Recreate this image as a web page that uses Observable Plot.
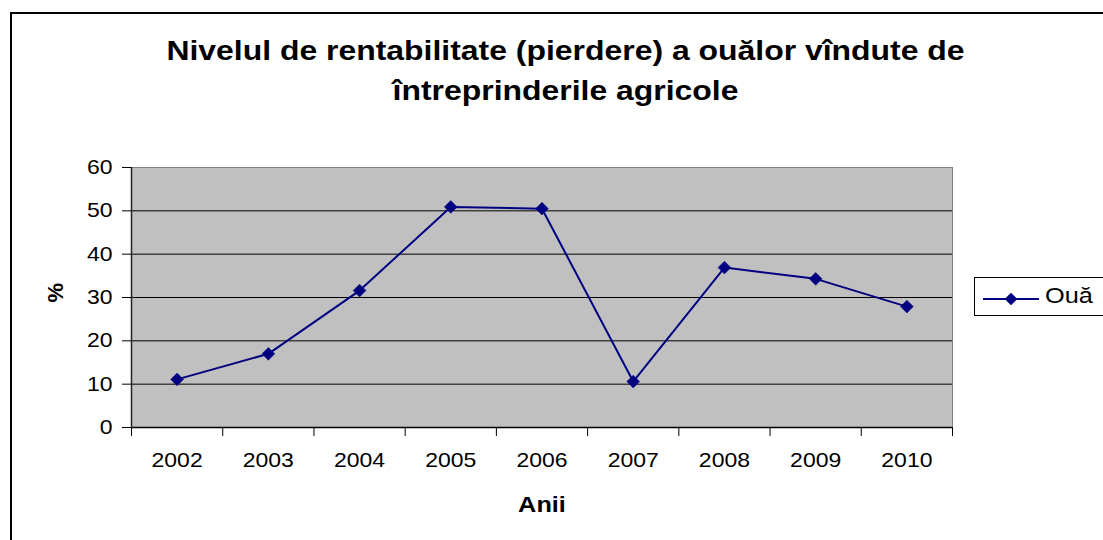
<!DOCTYPE html>
<html>
<head>
<meta charset="utf-8">
<script src="https://cdn.jsdelivr.net/npm/d3@7"></script>
<script src="https://cdn.jsdelivr.net/npm/@observablehq/plot@0.6"></script>
<style>
  html, body { margin: 0; padding: 0; background: #fff; }
  body { width: 1103px; height: 540px; position: relative; overflow: hidden; font-family: "Liberation Sans", Arial, sans-serif; }
  #frame { position: absolute; left: 10px; top: 12px; width: 1200px; height: 600px; border-left: 2px solid #000; border-top: 2px solid #000; }
  #title { position: absolute; left: 0; width: 1131px; top: 31px; text-align: center; font-weight: bold; font-size: 28px; line-height: 40px; color: #000; transform: scaleX(1.14); transform-origin: 565.5px 0; }
  #chart { position: absolute; left: 0; top: 0; }
  #legend { position: absolute; left: 974px; top: 277px; width: 140px; height: 39px; border: 1px solid #000; background: #fff; box-sizing: border-box; }
  #legend svg { position: absolute; left: 0; top: 0; }
  #legend span { position: absolute; left: 70px; top: 5px; font-size: 22px; line-height: 26px; color: #000; transform: scaleX(1.15); transform-origin: 0 0; }
</style>
</head>
<body>
<div id="frame"></div>
<div id="title">Nivelul de rentabilitate (pierdere) a ouălor vîndute de<br>întreprinderile agricole</div>
<div id="chart"></div>
<div id="legend">
  <svg width="70" height="39"><line x1="8" y1="21" x2="64" y2="21" stroke="#000080" stroke-width="2"/><rect x="31.5" y="16.5" width="9" height="9" fill="#000080" transform="rotate(45 36 21)"/></svg>
  <span>Ouă</span>
</div>
<script>
const years = [2002, 2003, 2004, 2005, 2006, 2007, 2008, 2009, 2010];
const values = [11.1, 17.0, 31.6, 50.9, 50.5, 10.6, 36.9, 34.3, 27.9];
const yTicks = [0, 10, 20, 30, 40, 50, 60];
const seriesName = "Ouă";

const data = years.map((year, i) => ({year, value: values[i]}));
const boundaries = [years[0] - 0.5, ...years.map(y => y + 0.5)];

const chart = Plot.plot({
  width: 1103,
  height: 540,
  marginLeft: 131,
  marginRight: 151,
  marginTop: 167,
  marginBottom: 113,
  style: {fontFamily: "'Liberation Sans', Arial, sans-serif", fontSize: "20px", color: "#000", background: "transparent", overflow: "visible"},
  x: {type: "linear", domain: [boundaries[0], boundaries[boundaries.length - 1]]},
  y: {domain: [0, 60]},
  marks: [
    Plot.frame({fill: "#c0c0c0", stroke: "#808080", strokeWidth: 1}),
    Plot.ruleY(yTicks.slice(1, -1), {stroke: "#000", strokeWidth: 1}),
    Plot.ruleX([boundaries[0]], {stroke: "#222", strokeWidth: 1.5}),
    Plot.ruleY([0], {stroke: "#000", strokeWidth: 1.5}),
    Plot.axisY({ticks: yTicks, tickSize: 9, tickPadding: 10, tickFormat: d => String(d), label: null, fontSize: 20}),
    Plot.axisX({ticks: boundaries, tickSize: 9, tickFormat: () => "", label: null}),
    Plot.axisX({ticks: years, tickSize: 0, tickPadding: 25, tickFormat: d => String(d), label: null, fontSize: 20}),
    Plot.line(data, {x: "year", y: "value", stroke: "#000080", strokeWidth: 2}),
    Plot.dot(data, {x: "year", y: "value", symbol: "square", r: 5.1, rotate: 45, fill: "#000080", stroke: "#000080", strokeWidth: 0.5}),
    Plot.text(["Anii"], {frameAnchor: "bottom", dy: 84, fontWeight: "bold", fontSize: 22, text: d => d}),
    Plot.text(["%"], {frameAnchor: "left", dx: -76, dy: 5, rotate: -90, fontWeight: "bold", fontSize: 22, text: d => d})
  ]
});
document.getElementById("chart").appendChild(chart);

// the reference's lettering is horizontally stretched: widen each unrotated label around its own anchor
const stretch = 1.15;
chart.querySelectorAll("text").forEach(t => {
  const tr = t.getAttribute("transform") || "";
  if (tr.includes("rotate")) return;
  let base = tr;
  if (!tr.includes("translate")) {
    const x = +t.getAttribute("x") || 0, y = +t.getAttribute("y") || 0;
    t.removeAttribute("x"); t.removeAttribute("y");
    base = `translate(${x},${y}) ${tr}`;
  }
  t.setAttribute("transform", `${base} scale(${stretch},1)`);
});
</script>
</body>
</html>
